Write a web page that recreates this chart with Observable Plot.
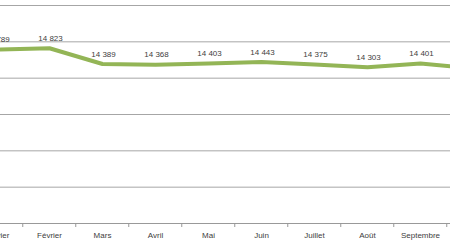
<!DOCTYPE html>
<html>
<head>
<meta charset="utf-8">
<script src="https://cdn.jsdelivr.net/npm/d3@7"></script>
<script src="https://cdn.jsdelivr.net/npm/@observablehq/plot@0.6"></script>
<style>
  html, body { margin: 0; padding: 0; background: #fff; }
  #chart { width: 450px; height: 252px; overflow: hidden; }
</style>
</head>
<body>
<div id="chart"></div>
<script>
const months = ["Janvier", "Février", "Mars", "Avril", "Mai", "Juin", "Juillet", "Août", "Septembre", "Octobre"];
const values = [14789, 14823, 14389, 14368, 14403, 14443, 14375, 14303, 14401, 14270];
const gridValues = [11000, 12000, 13000, 14000, 15000, 16000];

const data = months.map((m, i) => ({month: m, value: values[i]}));
const fmt = d3.formatLocale({decimal: ",", thousands: "\u00a0", grouping: [3], currency: ["", ""]}).format(",d");

const step = 53.5;
const chart = Plot.plot({
  width: 450,
  height: 252,
  marginTop: 5,
  marginBottom: 29,
  marginLeft: 0,
  marginRight: 0,
  style: {fontFamily: "'Liberation Sans', Arial, sans-serif", background: "#fff", color: "#404040", overflow: "hidden"},
  x: {type: "point", domain: months, padding: 0, range: [-6.4, -6.4 + step * (months.length - 1)], axis: null},
  y: {domain: [10000, 16000], axis: null},
  marks: [
    Plot.ruleY(gridValues, {stroke: "#a6a6a6", strokeWidth: 1, strokeOpacity: 1}),
    Plot.ruleY([10000], {stroke: "#999", strokeWidth: 1, strokeOpacity: 1}),
    Plot.axisX({tickSize: 4, tickFormat: () => "", dx: -step / 2, stroke: "#999", strokeOpacity: 1, label: null}),
    Plot.axisX({tickSize: 0, tickPadding: 9, fontSize: 8, fill: "#404040", label: null}),
    Plot.line(data, {x: "month", y: "value", stroke: "#93b556", strokeWidth: 4, strokeLinejoin: "round", strokeLinecap: "butt"}),
    Plot.text(data, {x: "month", y: "value", text: d => fmt(d.value), dy: -10, dx: 1, fontSize: 8, fill: "#404040"})
  ]
});
document.getElementById("chart").append(chart);
</script>
</body>
</html>
